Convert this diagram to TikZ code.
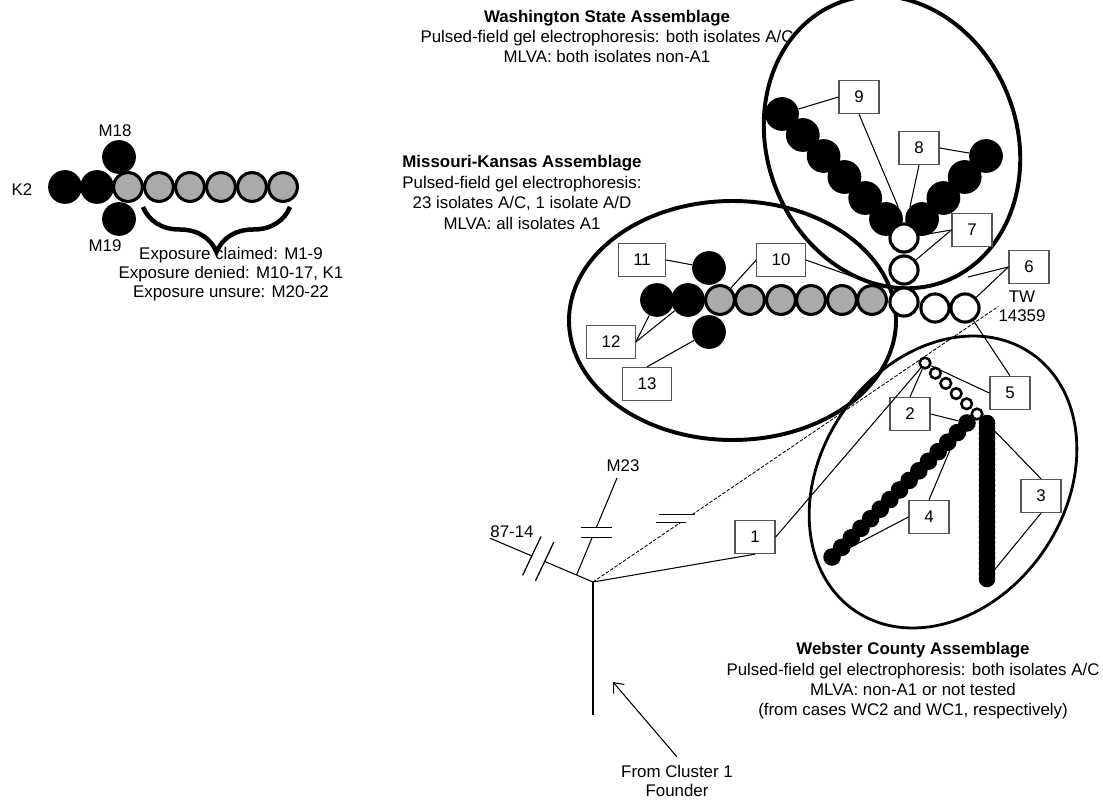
\documentclass[tikz,border=0pt]{standalone}
\usepackage{fontspec}
\setmainfont{Liberation Sans}
\usetikzlibrary{arrows.meta, calc, decorations.pathreplacing}
\definecolor{dotgray}{RGB}{170,170,170}
\definecolor{boxgray}{RGB}{85,85,85}

\tikzset{
  bigdot/.style={circle, fill=black, inner sep=0pt, minimum size=24pt},
  graydot/.style={circle, draw=black, line width=2.2pt, fill=dotgray, inner sep=0pt, minimum size=20.5pt},
  whitedot/.style={circle, draw=black, line width=2.2pt, fill=white, inner sep=0pt, minimum size=20pt},
  smalldot/.style={circle, draw=black, line width=1.8pt, fill=white, inner sep=0pt, minimum size=7.6pt},
  diagdot/.style={circle, fill=black, inner sep=0pt, minimum size=12.5pt},
  coldot/.style={circle, fill=black, inner sep=0pt, minimum size=11.8pt},
  numbox/.style={draw=boxgray, line width=0.9pt, fill=white, minimum width=28.5pt,
                 minimum height=23.5pt, inner xsep=10.5pt, inner ysep=0pt,
                 font=\fontsize{12}{14}\selectfont},
  leader/.style={line width=0.75pt},
  lbl/.style={font=\fontsize{12}{14.5}\selectfont, align=center, inner sep=0pt},
  breakmark/.style={line width=0.9pt},
}

\begin{document}
\begin{tikzpicture}[x=0.025cm, y=-0.025cm]
  \useasboundingbox (0,0) rectangle (1103,800);
  \clip (0,0) rectangle (1103,800);

  % Legend cluster (top left)
  \node[bigdot] (tk1) at (65,187) {};
  \node[bigdot] (tk2) at (97,187) {};
  \node[bigdot] (tm18) at (119,157) {};
  \node[bigdot] (tm19) at (119,219) {};
  \foreach \x [count=\i] in {128,159,190,221,252,283}
    \node[graydot] (tg\i) at (\x,187) {};
  \node[lbl] (lk2) at (22,190) {K2};
  \node[lbl] (lm18) at (115,131) {M18};
  \node[lbl] (lm19) at (105,246) {M19};
  \draw[line width=3.2pt, decorate, decoration={brace, mirror, amplitude=32pt}]
    (143,207) -- (290,207);
  \node[lbl, font=\fontsize{12}{13.5}\selectfont] (expo) at (231,274)
    {Exposure claimed: M1-9\\Exposure denied: M10-17, K1\\Exposure unsure: M20-22};

  % Assemblage titles
  \node[lbl] (wsat) at (607,36.5) {\textbf{Washington State Assemblage}\\
    Pulsed-field gel electrophoresis: both isolates A/C\\MLVA: both isolates non-A1};
  \node[lbl] (mkat) at (522,192.5) {\textbf{Missouri-Kansas Assemblage}\\
    Pulsed-field gel electrophoresis:\\23 isolates A/C, 1 isolate A/D\\MLVA: all isolates A1};
  \node[lbl] (wcat) at (913,681) {\textbf{Webster County Assemblage}\\
    Pulsed-field gel electrophoresis: both isolates A/C\\MLVA: non-A1 or not tested\\
    (from cases WC2 and WC1, respectively)};

  % Assemblage ellipses
  \draw[line width=2.8pt, rotate around={-69.4:(892,142)}] (892,142) ellipse [x radius=149, y radius=125];
  \draw[line width=2.8pt] (732.5,320.5) ellipse [x radius=163.5, y radius=119.5];
  \draw[line width=2pt, rotate around={55.5:(943,482)}] (943,482) ellipse [x radius=156, y radius=122];

  % Washington State chains
  \foreach \i in {1,...,6}
    \node[bigdot] (wl\i) at ({782+20.8*(\i-1)},{114+21*(\i-1)}) {};
  \foreach \i in {1,...,4}
    \node[bigdot] (wr\i) at ({986-21.3*(\i-1)},{156+21*(\i-1)}) {};
  \node[whitedot] (ws3) at (904,238) {};
  \node[whitedot] (ws2) at (904,270) {};
  \node[whitedot] (ws1) at (904,302) {};
  \node[whitedot] (tw1) at (935,308) {};
  \node[whitedot] (tw2) at (965,308) {};
  \node[lbl, font=\fontsize{12}{13.5}\selectfont] (twl) at (1022,306.5) {TW\\14359};
  \coordinate (wsedge) at (968,277);

  % Missouri-Kansas chain
  \node[bigdot] (mk1) at (657,300) {};
  \node[bigdot] (mk2) at (688,300) {};
  \node[bigdot] (mtop) at (709,268) {};
  \node[bigdot] (mbot) at (709,332) {};
  \foreach \x [count=\i] in {720,750,781,811,842,872}
    \node[graydot] (mg\i) at (\x,300) {};

  % Webster County chains
  \foreach \i in {1,...,15}
    \node[diagdot] (dg\i) at ({967-9.64*(\i-1)},{423+9.57*(\i-1)}) {};
  \foreach \i in {1,...,31}
    \node[coldot] (vt\i) at (987,{423+5.2*(\i-1)}) {};
  \foreach \i in {1,...,6}
    \node[smalldot] (sw\i) at ({925+10.4*(\i-1)},{363+10.2*(\i-1)}) {};

  % Number boxes
  \node[numbox] (b1) at (755,537) {1};
  \node[numbox] (b2) at (910,414) {2};
  \node[numbox] (b3) at (1041,496) {3};
  \node[numbox] (b4) at (929,517) {4};
  \node[numbox] (b5) at (1010,393) {5};
  \node[numbox] (b6) at (1029,267) {6};
  \node[numbox] (b7) at (972,230) {7};
  \node[numbox] (b8) at (919,148) {8};
  \node[numbox] (b9) at (859,97) {9};
  \node[numbox] (b10) at (781,260) {10};
  \node[numbox] (b11) at (642,260) {11};
  \node[numbox] (b12) at (611,342) {12};
  \node[numbox] (b13) at (647,384) {13};

  % Leaders
  \draw[leader] (b9.west) -- (wl1);
  \draw[leader] (b9.south) -- (wl6.north east);
  \draw[leader] (b8.east) -- (wr1);
  \draw[leader] (b8.south) -- (wr4.north west);
  \draw[leader] (b7.west) -- (ws3);
  \draw[leader] (b7.west) -- (ws2);
  \draw[leader] (b6.west) -- (wsedge);
  \draw[leader] (b6.west) -- (tw2);
  \draw[leader] (b10.west) -- (mg1);
  \draw[leader] (b10.east) -- (mg6.60);
  \draw[leader] (b11.east) -- (mtop);
  \draw[leader] (b12.east) -- (mk1);
  \draw[leader] (b12.east) -- (mk2);
  \draw[leader] (b13.north) -- (mbot);
  \draw[leader] (b5.west) -- (sw1);
  \draw[leader] (b5.north) -- (tw2);
  \draw[leader] (b2.north) -- (sw1);
  \draw[leader] (b2.east) -- (dg1);
  \draw[leader] (b3.north) -- (vt1);
  \draw[leader] (b3.south) -- (vt31);
  \draw[leader] (b4.north) -- (dg2);
  \draw[leader] (b4.west) -- (dg15);

  % Root of the tree
  \coordinate (root) at (593,582);
  \coordinate (base) at (593,715);
  \draw[leader] (root) -- (base);
  \draw[leader] (b1.south) -- (root);
  \draw[leader] (b1.east) -- (sw1);

  % 87-14 branch with break
  \node[lbl] (l8714) at (512,532) {87-14};
  \coordinate (k1) at ($(root)!0.47!(l8714.south west)$);
  \coordinate (k2) at ($(root)!0.595!(l8714.south west)$);
  \draw[leader] (root) -- (k1);
  \draw[leader] (k2) -- (l8714.south west);
  \draw[breakmark] ($(k1)+(9.2,-19.4)$) -- ($(k1)+(-9.2,19.4)$);
  \draw[breakmark] ($(k2)+(9.2,-19.4)$) -- ($(k2)+(-9.2,19.4)$);

  % M23 branch with break
  \node[lbl] (lm23) at (623,466) {M23};
  \coordinate (m23tip) at (617,478);
  \coordinate (m23base) at ($(root)!0.16!(l8714.south west)$);
  \coordinate (m1) at ($(m23base)!0.388!(m23tip)$);
  \coordinate (m2) at ($(m23base)!0.49!(m23tip)$);
  \draw[leader] (m23base) -- (m1);
  \draw[leader] (m2) -- (m23tip);
  \draw[breakmark] ($(m1)+(-11,0)$) -- ($(m1)+(20,0)$);
  \draw[breakmark] ($(m2)+(-15,0)$) -- ($(m2)+(16,0)$);

  % Dashed branch to TW 14359 with break
  \coordinate (d1) at ($(root)!0.215!(twl.west)$);
  \coordinate (d2) at ($(root)!0.245!(twl.west)$);
  \draw[line width=0.6pt, dash pattern=on 2.5pt off 1.2pt] (root) -- (d1);
  \draw[line width=0.6pt, dash pattern=on 2.5pt off 1.2pt] (d2) -- (twl.west);
  \draw[breakmark] ($(d1)+(-24,0)$) -- ($(d1)+(6,0)$);
  \draw[breakmark] ($(d2)+(-33,0)$) -- ($(d2)+(3,0)$);

  % Founder arrow
  \node[lbl, font=\fontsize{12}{13}\selectfont] (found) at (677,781) {From Cluster 1\\Founder};
  \coordinate (arrtip) at (613,682);
  \draw[leader, -{Straight Barb[length=6pt, width=10pt]}] ([yshift=6pt]found.north) -- (arrtip);
\end{tikzpicture}
\end{document}
